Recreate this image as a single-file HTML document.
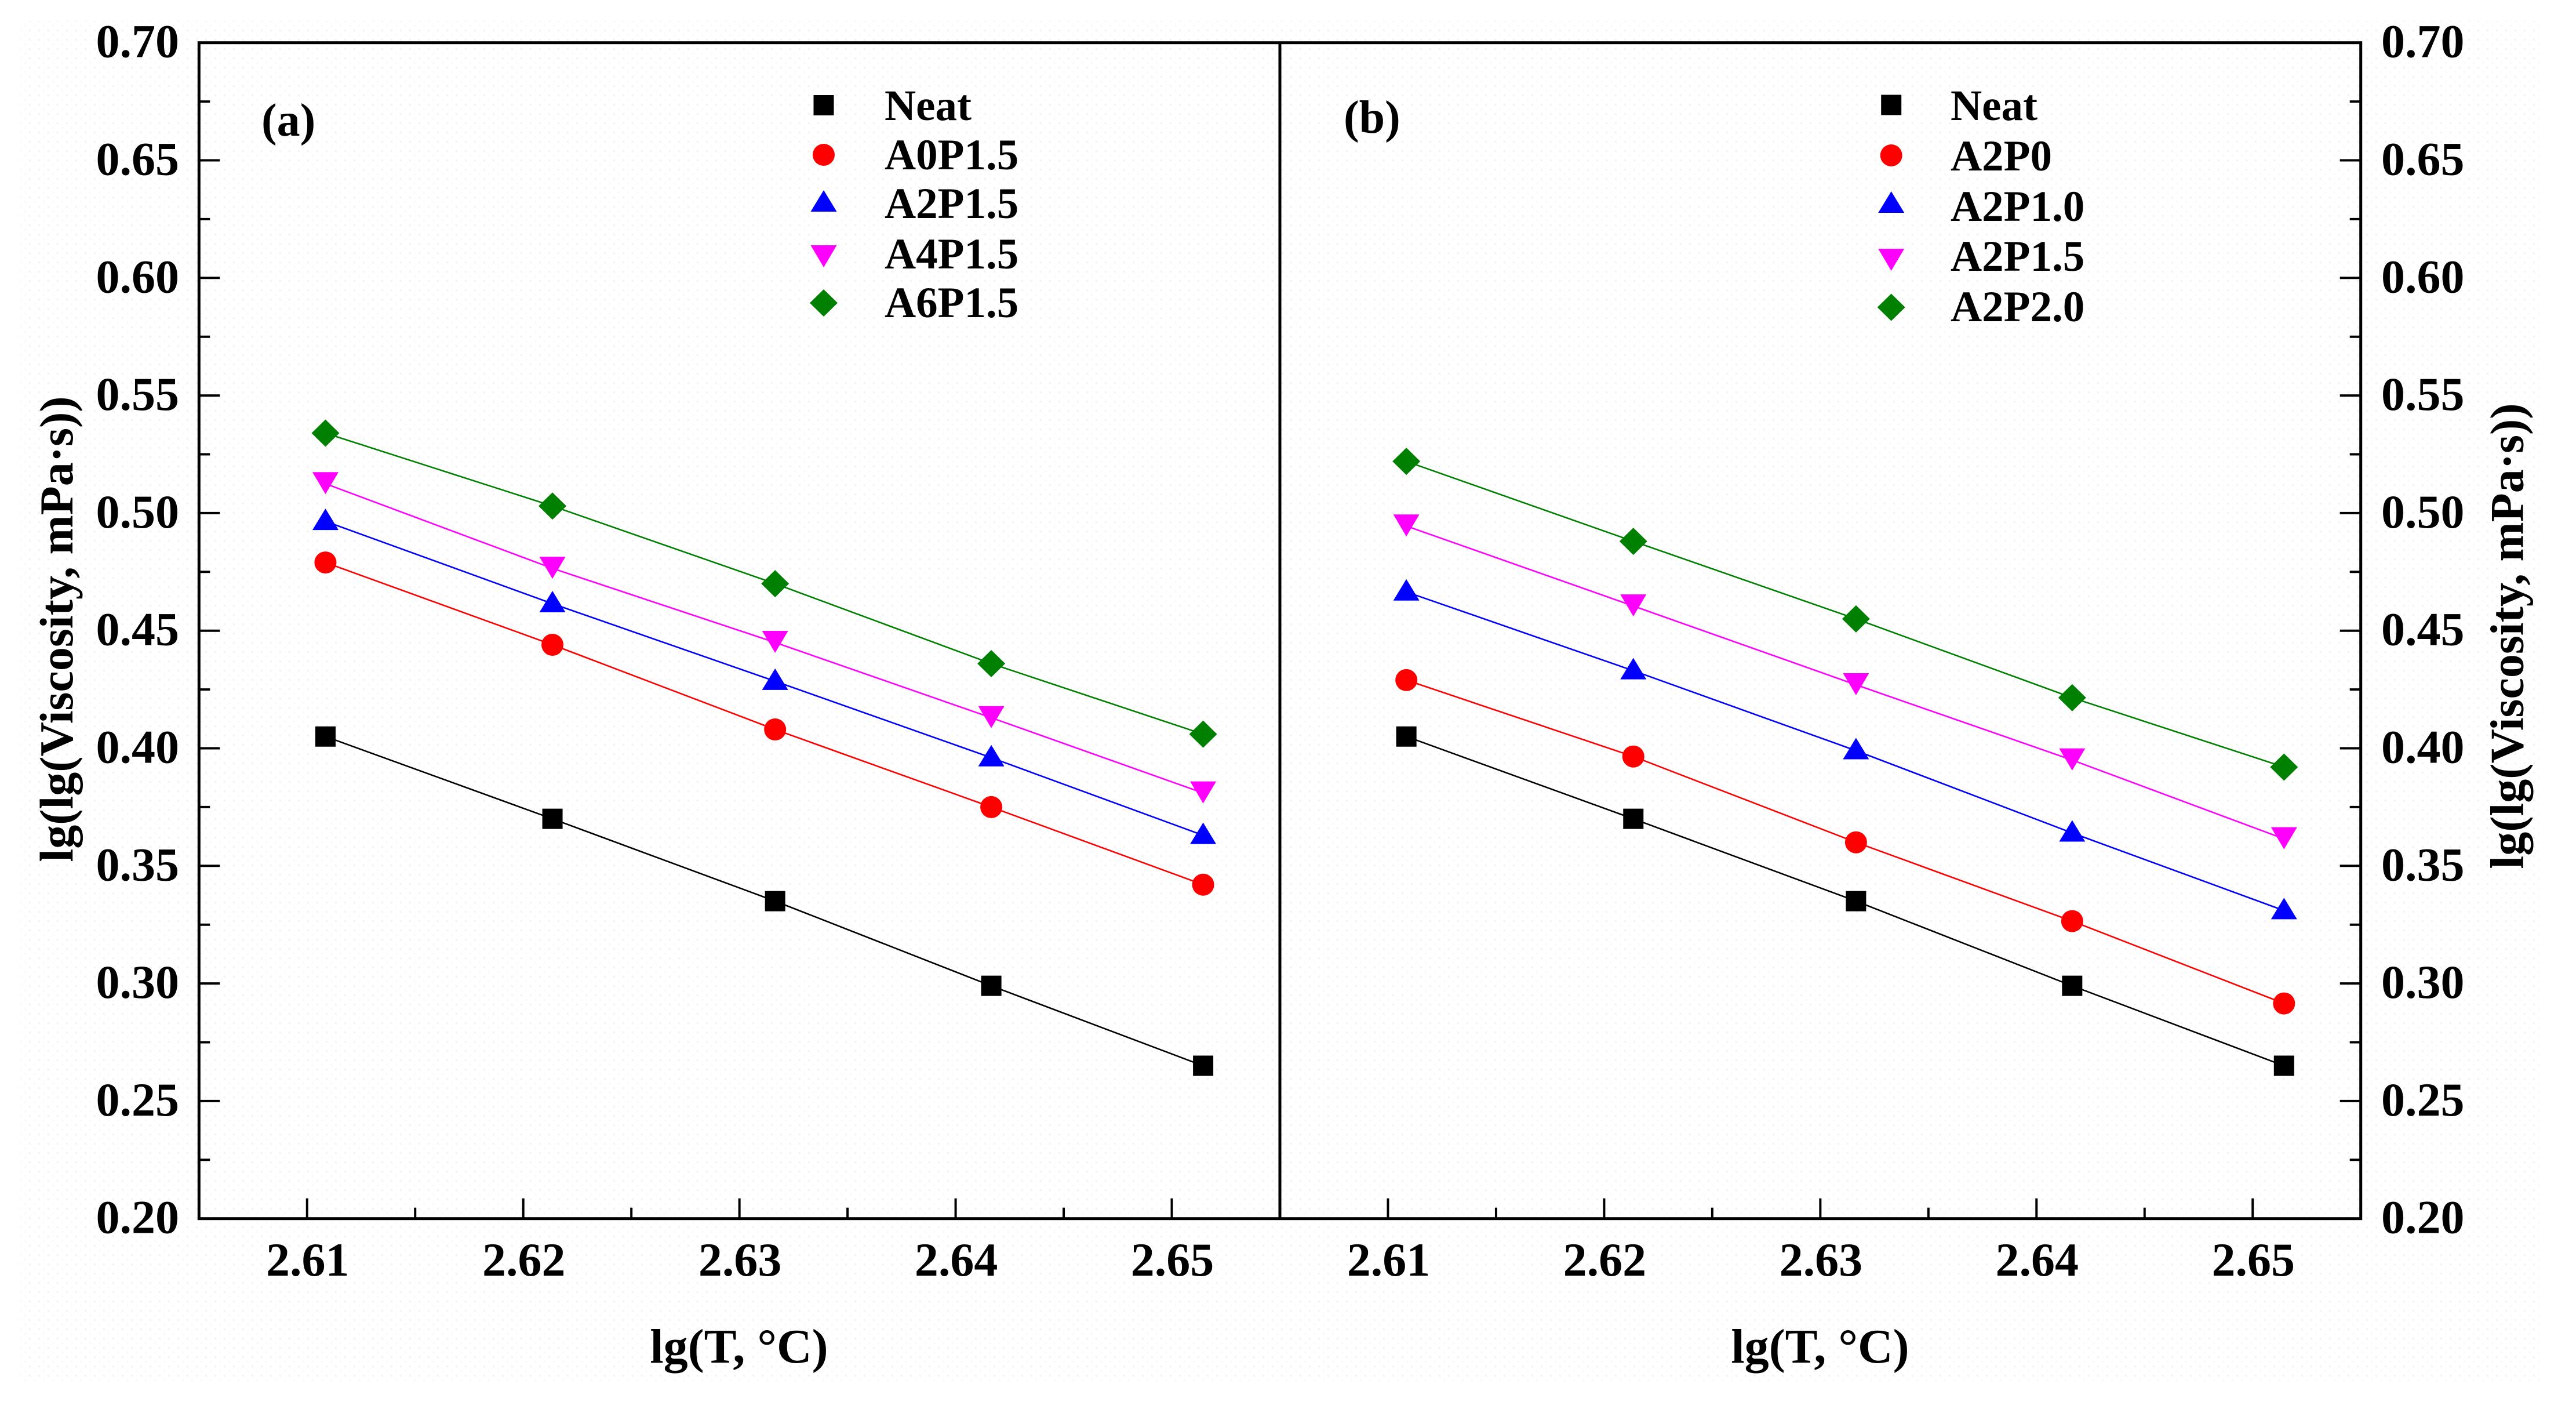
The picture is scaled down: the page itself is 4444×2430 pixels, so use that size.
<!DOCTYPE html>
<html lang="en">
<head>
<meta charset="utf-8">
<title>lg(lg(Viscosity)) versus lg(T)</title>
<style>
html,body{margin:0;padding:0;background:#fff;width:4444px;height:2430px;overflow:hidden}
svg{display:block}
text{font-family:"Liberation Serif",serif;font-weight:700;fill:#000}
</style>
</head>
<body>
<svg id="chart" xmlns="http://www.w3.org/2000/svg" width="4444" height="2430" viewBox="0 0 4444 2430">
<defs>
<pattern id="paper" width="16" height="16" patternUnits="userSpaceOnUse">
<rect x="2" y="3" width="3" height="3" fill="#fbeefb"/>
<rect x="10" y="11" width="3" height="3" fill="#f1fbfd"/>
<rect x="11" y="4" width="2" height="2" fill="#fdfdf0"/>
</pattern>
</defs>
<rect x="0" y="0" width="4444" height="2430" fill="#fff"/>
<rect x="36" y="36" width="4346" height="2347" fill="url(#paper)"/>
<g id="panel-a"></g>
<g id="panel-b"></g>
<rect x="343.3" y="73.7" width="3729.4" height="2028" fill="none" stroke="#000" stroke-width="5"/>
<line x1="2208" y1="73.7" x2="2208" y2="2101.7" stroke="#000" stroke-width="5"/>
<text x="451" y="234" font-size="80">(a)</text>
<text x="2318" y="229" font-size="80">(b)</text>
<text transform="translate(125,1085) rotate(-90)" text-anchor="middle" font-size="82">lg(lg(Viscosity, mPa·s))</text>
<text transform="translate(4352.7,1097) rotate(-90)" text-anchor="middle" font-size="82">lg(lg(Viscosity, mPa·s))</text>
<text x="1275" y="2350" text-anchor="middle" font-size="84">lg(T, °C)</text>
<text x="3140" y="2350" text-anchor="middle" font-size="84">lg(T, °C)</text>
</svg>
<script>
const xValues = [2.61085, 2.62135, 2.63165, 2.64165, 2.65145];
const xTickLabels = ['2.61', '2.62', '2.63', '2.64', '2.65'];
const xMinorTicks = [2.615, 2.625, 2.635, 2.645];
const yTickLabels = ['0.20', '0.25', '0.30', '0.35', '0.40', '0.45', '0.50', '0.55', '0.60', '0.65', '0.70'];
const yMinorTicks = [0.225, 0.275, 0.325, 0.375, 0.425, 0.475, 0.525, 0.575, 0.625, 0.675];

const namesA = ['Neat', 'A0P1.5', 'A2P1.5', 'A4P1.5', 'A6P1.5'];
const neatA = [0.405, 0.370, 0.335, 0.299, 0.265];
const a0p15A = [0.479, 0.444, 0.408, 0.375, 0.342];
const a2p15A = [0.4965, 0.4615, 0.4285, 0.396, 0.363];
const a4p15A = [0.5125, 0.4765, 0.445, 0.413, 0.381];
const a6p15A = [0.534, 0.503, 0.470, 0.436, 0.406];

const namesB = ['Neat', 'A2P0', 'A2P1.0', 'A2P1.5', 'A2P2.0'];
const neatB = [0.405, 0.370, 0.335, 0.299, 0.265];
const a2p0B = [0.429, 0.3965, 0.360, 0.3265, 0.2915];
const a2p10B = [0.4665, 0.433, 0.399, 0.364, 0.331];
const a2p15B = [0.4945, 0.4605, 0.427, 0.395, 0.3615];
const a2p20B = [0.522, 0.488, 0.455, 0.4215, 0.392];

const colors = ['#000000', '#ff0000', '#0000ff', '#ff00ff', '#008000'];
const shapes = ['square', 'circle', 'up', 'down', 'diamond'];

const NS = 'http://www.w3.org/2000/svg';
const plotTop = 73.7, plotBottom = 2101.7, panelWidth = 1864.7;
const xDomainMin = 2.605, xDomainMax = 2.655, yDomainMin = 0.2, yDomainMax = 0.7;

function yScale(v) {
  return plotBottom - (v - yDomainMin) / (yDomainMax - yDomainMin) * (plotBottom - plotTop);
}
function xScale(left, v) {
  return left + (v - xDomainMin) / (xDomainMax - xDomainMin) * panelWidth;
}
function make(tag, attrs, parent) {
  const el = document.createElementNS(NS, tag);
  for (const k in attrs) el.setAttribute(k, attrs[k]);
  parent.appendChild(el);
  return el;
}
function markerPath(shape, x, y) {
  if (shape === 'square') return `M${x-17.5} ${y-17.5}h35v35h-35z`;
  if (shape === 'circle') return `M${x-19} ${y}a19 19 0 1 0 38 0a19 19 0 1 0 -38 0z`;
  if (shape === 'up') return `M${x} ${y-22}L${x+22.5} ${y+15}H${x-22.5}z`;
  if (shape === 'down') return `M${x-22.5} ${y-20}H${x+22.5}L${x} ${y+18}z`;
  return `M${x} ${y-23.5}L${x+24} ${y}L${x} ${y+23.5}L${x-24} ${y}z`;
}
function drawMarker(parent, shape, color, x, y, label) {
  const m = make('path', {d: markerPath(shape, x, y), fill: color}, parent);
  
  
}
function tick(parent, x1, y1, x2, y2, label) {
  const t = make('line', {x1, y1, x2, y2, stroke: '#000', 'stroke-width': 4}, parent);
  
  
}
function label(parent, txt, x, y, size, anchor, name) {
  const t = make('text', {x, y, 'font-size': size, 'text-anchor': anchor}, parent);
  t.textContent = txt;
  
  
}

function drawPanel(id, left, names, seriesList, legendX, legendTextX, legendMarkerY, legendTextY, yTickSide) {
  const g = document.getElementById(id);

  xTickLabels.forEach(function (txt) {
    const x = xScale(left, parseFloat(txt));
    tick(g, x, plotBottom, x, plotBottom - 35, 'x-major-tick');
    label(g, txt, x + 1, 2200, 82, 'middle', 'x-tick-label');
  });
  xMinorTicks.forEach(function (v) {
    const x = xScale(left, v);
    tick(g, x, plotBottom, x, plotBottom - 19, 'x-minor-tick');
  });

  yTickLabels.forEach(function (txt) {
    const y = yScale(parseFloat(txt));
    if (yTickSide === 'left') {
      tick(g, left, y, left + 36, y, 'y-major-tick');
      label(g, txt, 309, y + 25, 82, 'end', 'y-tick-label');
    } else {
      tick(g, left + panelWidth, y, left + panelWidth - 36, y, 'y-major-tick');
      label(g, txt, 4108, y + 25, 82, 'start', 'y-tick-label');
    }
  });
  yMinorTicks.forEach(function (v) {
    const y = yScale(v);
    if (yTickSide === 'left') tick(g, left, y, left + 19, y, 'y-minor-tick');
    else tick(g, left + panelWidth, y, left + panelWidth - 19, y, 'y-minor-tick');
  });

  seriesList.forEach(function (values, i) {
    const pts = values.map(function (v, j) {
      return xScale(left, xValues[j]).toFixed(1) + ',' + yScale(v).toFixed(1);
    }).join(' ');
    const line = make('polyline', {points: pts, fill: 'none', stroke: colors[i], 'stroke-width': 2.6}, g);
    
    
    values.forEach(function (v, j) {
      drawMarker(g, shapes[i], colors[i], xScale(left, xValues[j]), yScale(v), 'data-point');
    });
    drawMarker(g, shapes[i], colors[i], legendX, legendMarkerY[i], 'legend-marker');
    label(g, names[i], legendTextX, legendTextY[i], 75, 'start', 'legend-label');
  });
}

drawPanel('panel-a', 343.3, namesA, [neatA, a0p15A, a2p15A, a4p15A, a6p15A],
  1421, 1526, [181.5, 267, 350, 443, 522.5], [207, 292, 376, 463, 547], 'left');
drawPanel('panel-b', 2208, namesB, [neatB, a2p0B, a2p10B, a2p15B, a2p20B],
  3262.7, 3365, [181, 268, 352, 449, 530], [207, 294, 381, 467, 554], 'right');
</script>
</body>
</html>
